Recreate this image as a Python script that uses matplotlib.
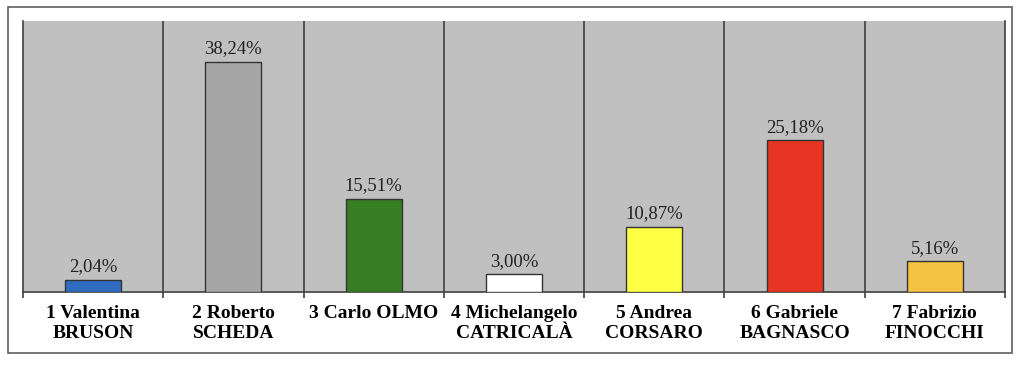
import matplotlib
matplotlib.use("Agg")
import matplotlib.pyplot as plt
from matplotlib.patches import Rectangle

candidates = ["1 Valentina\nBRUSON", "2 Roberto\nSCHEDA", "3 Carlo OLMO",
              "4 Michelangelo\nCATRICALÀ", "5 Andrea\nCORSARO",
              "6 Gabriele\nBAGNASCO", "7 Fabrizio\nFINOCCHI"]
shares = [2.04, 38.24, 15.51, 3.00, 10.87, 25.18, 5.16]
colors = ["#2f6cc0", "#a6a6a6", "#377d22", "#ffffff", "#ffff44", "#e83523", "#f4c242"]

plt.rcParams["font.family"] = ["Liberation Serif", "DejaVu Serif"]

W, H = 1024, 373
fig = plt.figure(figsize=(W / 100, H / 100), dpi=100)
fig.patches.append(Rectangle((8 / W, 1 - 353 / H), 1004 / W, 346 / H,
                             transform=fig.transFigure, fill=False,
                             edgecolor="#606060", linewidth=1.2))

ax = fig.add_axes([23 / W, 1 - 292 / H, 982 / W, 271 / H])
ax.set_facecolor("#c0c0c0")

x = range(len(shares))
ax.bar(x, shares, width=0.4, color=colors, edgecolor="#333333", linewidth=1, zorder=3)
for xi, v in zip(x, shares):
    ax.annotate(f"{v:.2f}%".replace(".", ","), (xi, v), xytext=(0, 3),
                textcoords="offset points", ha="center", va="bottom",
                fontsize=13.5, color="#222222")

for b in [i + 0.5 for i in range(len(shares) - 1)]:
    ax.axvline(b, color="#404040", linewidth=1.2, zorder=2)

ax.set_xlim(-0.5, len(shares) - 0.5)
ax.set_ylim(0, 45)
ax.set_yticks([])
ax.set_xticks([i - 0.5 for i in range(len(shares) + 1)])
ax.set_xticklabels([])
ax.tick_params(axis="x", which="major", length=4, width=1.2, color="#404040")
ax.set_xticks(list(x), minor=True)
ax.set_xticklabels(candidates, minor=True, fontsize=14, fontweight="bold",
                   linespacing=1.3)
ax.tick_params(axis="x", which="minor", length=0, pad=9)

for side in ["left", "right", "bottom"]:
    ax.spines[side].set_color("#404040")
    ax.spines[side].set_linewidth(1.2)
ax.spines["top"].set_visible(False)

fig.savefig("out.png", dpi=100)
